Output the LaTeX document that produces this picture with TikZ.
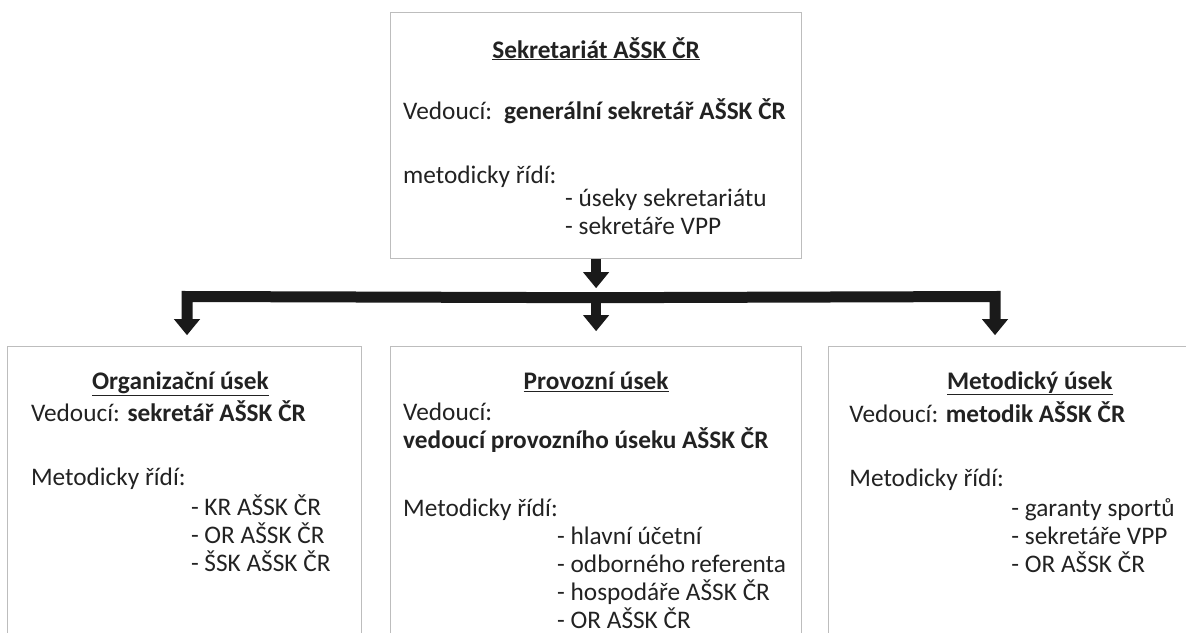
\documentclass[tikz,border=0pt]{standalone}
\usepackage{fontspec}
\setmainfont{Carlito}
\usepackage{xcolor}
\definecolor{boxgray}{HTML}{BDBDBD}
\definecolor{arrowblack}{HTML}{1A1A1A}
\definecolor{textblack}{HTML}{222222}
\usepackage{tikz}
\usetikzlibrary{positioning,calc,arrows.meta}
\tikzstyle{unit} = [rectangle, draw=boxgray, line width=1.2pt, inner sep=0pt]
\tikzstyle{title} = [anchor=base, inner sep=0pt, font=\fontsize{25.3}{28}\selectfont\bfseries, text=textblack]
\tikzstyle{body} = [anchor=base west, inner sep=0pt, align=left, text=textblack]
\tikzstyle{flow} = [draw=arrowblack, line width=11pt, -{Triangle[width=25pt,length=16pt]}]

\begin{document}
\begin{tikzpicture}[x=1pt, y=1pt, font=\fontsize{25.3}{28}\selectfont]
    \useasboundingbox (0,0) rectangle (1186,-632);

    % Boxes
    \begin{scope}
    \clip (0,0) rectangle (1186,-632);
    \node [unit, anchor=north west, minimum width=411pt, minimum height=246pt] (sek) at (390,-12) {};
    \node [unit, below=87pt of sek, minimum width=411pt, minimum height=300pt] (prov) {};
    \node [unit, left=28pt of prov, minimum width=354pt, minimum height=300pt] (org) {};
    \node [unit, right=26pt of prov, minimum width=402pt, minimum height=300pt] (met) {};
    \end{scope}

    % Texts (body anchored at baseline of its last line)
    \node [title] (sek_title) at ($(sek.north)+(0,-46)$) {\underline{Sekretariát AŠSK ČR}};
    \node [body] (sek_text) at ($(sek.north west)+(13,-222)$)
        {Vedoucí:\hspace{12pt}\textbf{generální sekretář AŠSK ČR}\\[36pt]
         metodicky řídí:\\[-5pt]
         \hspace*{162pt}- úseky sekretariátu\\
         \hspace*{162pt}- sekretáře VPP};

    \node [title] (org_title) at ($(org.north)+(-4,-43)$) {\underline{Organizační úsek}};
    \node [body] (org_text) at ($(org.north west)+(24,-225)$)
        {Vedoucí: \textbf{sekretář AŠSK ČR}\\[36pt]
         Metodicky řídí:\\[2pt]
         \hspace*{160pt}- KR AŠSK ČR\\
         \hspace*{160pt}- OR AŠSK ČR\\
         \hspace*{160pt}- ŠSK AŠSK ČR};

    \node [title] (prov_title) at ($(prov.north)+(0,-43)$) {\underline{Provozní úsek}};
    \node [body] (prov_text) at ($(prov.north west)+(13,-282)$)
        {Vedoucí:\\
         \textbf{vedoucí provozního úseku AŠSK ČR}\\[40pt]
         Metodicky řídí:\\
         \hspace*{154pt}- hlavní účetní\\
         \hspace*{154pt}- odborného referenta\\
         \hspace*{154pt}- hospodáře AŠSK ČR\\
         \hspace*{154pt}- OR AŠSK ČR};

    \node [title] (met_title) at ($(met.north)+(0,-43)$) {\underline{Metodický úsek}};
    \node [body] (met_text) at ($(met.north west)+(21,-226)$)
        {Vedoucí: \textbf{metodik AŠSK ČR}\\[36pt]
         Metodicky řídí:\\[2pt]
         \hspace*{162pt}- garanty sportů\\
         \hspace*{162pt}- sekretáře VPP\\
         \hspace*{162pt}- OR AŠSK ČR};

    % Arrows
    \coordinate (hub) at ($(sek.south)+(0,-38.5)$);
    \coordinate (leftdrop) at (187,-296.5);
    \coordinate (rightdrop) at (995,-296.5);
    \draw [flow, line width=10pt, shorten >=9.5pt] (sek.south) -- (hub);
    \draw [flow, shorten >=11pt] (hub) -- (leftdrop) -- (leftdrop |- org.north);
    \draw [flow, shorten >=11pt] (hub) -- (rightdrop) -- (rightdrop |- met.north);
    \draw [flow, line width=10pt, shorten >=15pt] (hub) -- (prov.north);

\end{tikzpicture}
\end{document}
